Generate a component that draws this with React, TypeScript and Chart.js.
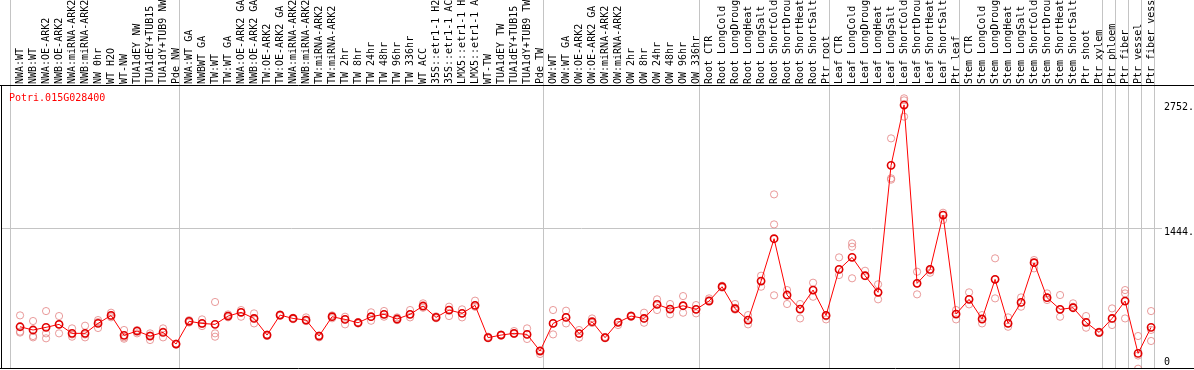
import React, { useEffect, useRef } from 'react';
import { Chart, registerables } from 'chart.js';

Chart.register(...registerables);

const TITLE = 'Potri.015G028400';

const labels = [
  'NWA:WT', 'NWB:WT', 'NWA:OE-ARK2', 'NWB:OE-ARK2', 'NWA:miRNA-ARK2', 'NWB:miRNA-ARK2', 'NW 0hr', 'WT H2O', 'WT-NW',
  'TUA1dEY NW', 'TUA1dEY+TUB15 NW', 'TUA1dY+TUB9 NW', 'Pde NW',
  'NWA:WT GA', 'NWBWT GA', 'TW:WT', 'TW:WT GA', 'NWA:OE-ARK2 GA', 'NWB:OE-ARK2 GA', 'TW:OE-ARK2', 'TW:OE-ARK2 GA',
  'NWA:miRNA-ARK2 GA', 'NWB:miRNA-ARK2 GA', 'TW:miRNA-ARK2', 'TW:miRNA-ARK2 GA', 'TW 2hr', 'TW 8hr', 'TW 24hr',
  'TW 48hr', 'TW 96hr', 'TW 336hr', 'WT ACC', '35S::etr1-1 H2O', '35S::etr1-1 ACC', 'LMX5::etr1-1 H2O',
  'LMX5::etr1-1 ACC', 'WT-TW', 'TUA1dEY TW', 'TUA1dEY+TUB15 TW', 'TUA1dY+TUB9 TW', 'Pde TW',
  'OW:WT', 'OW:WT GA', 'OW:OE-ARK2', 'OW:OE-ARK2 GA', 'OW:miRNA-ARK2', 'OW:miRNA-ARK2 GA', 'OW 2hr', 'OW 8hr',
  'OW 24hr', 'OW 48hr', 'OW 96hr', 'OW 336hr',
  'Root CTR', 'Root LongCold', 'Root LongDrought', 'Root LongHeat', 'Root LongSalt', 'Root ShortCold',
  'Root ShortDrought', 'Root ShortHeat', 'Root ShortSalt', 'Ptr root',
  'Leaf CTR', 'Leaf LongCold', 'Leaf LongDrought', 'Leaf LongHeat', 'Leaf LongSalt', 'Leaf ShortCold',
  'Leaf ShortDrought', 'Leaf ShortHeat', 'Leaf ShortSalt', 'Ptr leaf',
  'Stem CTR', 'Stem LongCold', 'Stem LongDrought', 'Stem LongHeat', 'Stem LongSalt', 'Stem ShortCold',
  'Stem ShortDrought', 'Stem ShortHeat', 'Stem ShortSalt', 'Ptr shoot', 'Ptr xylem', 'Ptr phloem', 'Ptr fiber',
  'Ptr vessel', 'Ptr fiber vessel',
];

const means = [
  411, 377, 405, 436, 342, 342, 446, 530, 321, 366, 314, 352, 230,
  468, 446, 436, 523, 562, 498, 324, 533, 498, 481, 314, 516, 488, 453, 516, 541, 492, 541, 628, 509, 586, 551, 635, 297, 324, 342, 331, 157,
  446, 509, 340, 464, 297, 457, 523, 498, 645, 596, 631, 593,
  680, 830, 600, 481, 889, 1332, 743, 596, 795, 530,
  1011, 1137, 945, 771, 2100, 2731, 865, 1011, 1580, 544,
  698, 492, 907, 446, 666, 1081, 715, 593, 610, 457, 352, 498, 680, 132, 405,
];

const rep1 = [
  530, 471, 575, 523, 394, 422, 481, 558, 377, 377, 342, 394, 230,
  480, 488, 670, 540, 586, 551, 314, 540, 505, 509, 300, 530, 516, 460, 562, 576, 509, 586, 656, 520, 621, 593, 684, 307, 330, 366, 394, 126,
  586, 579, 377, 498, 297, 429, 523, 558, 698, 649, 732, 638,
  708, 830, 649, 533, 945, 1796, 795, 649, 872, 488,
  1137, 1284, 997, 855, 2382, 2801, 987, 976, 1604, 586,
  771, 533, 1127, 509, 718, 1109, 760, 743, 656, 523, 352, 603, 795, 314, 575,
];

const rep2 = [
  360, 314, 342, 342, 307, 300, 398, 523, 286, 342, 272, 300, 225,
  455, 418, 342, 510, 516, 446, 330, 525, 490, 470, 320, 500, 436, 445, 474, 516, 480, 509, 610, 500, 523, 509, 620, 290, 318, 335, 283, 160,
  331, 446, 297, 460, 290, 465, 515, 453, 586, 541, 558, 551,
  690, 840, 610, 436, 830, 1482, 649, 498, 725, 530,
  952, 1248, 945, 698, 1964, 2609, 750, 1011, 1528, 488,
  645, 446, 708, 411, 621, 1022, 691, 516, 610, 401, 345, 429, 760, -28, 262,
];

const rep3 = [
  350, 300, 290, 436, 330, 330, 460, 510, 300, 370, 320, 360, 235,
  470, 440, 307, 523, 562, 498, 324, 533, 498, 481, 314, 516, 488, 453, 516, 541, 492, 541, 628, 509, 586, 551, 635, 297, 324, 342, 331, 165,
  446, 509, 340, 450, 305, 457, 530, 498, 645, 596, 631, 593,
  680, 820, 590, 481, 889, 740, 743, 596, 795, 520,
  1011, 918, 940, 771, 1950, 2780, 865, 1000, 1580, 544,
  698, 492, 907, 446, 666, 1081, 715, 593, 620, 457, 360, 498, 498, 110, 378,
];

// column boundaries where grey separators are drawn
const groupBounds = [0, 13, 41, 53, 63, 73, 84, 85, 86, 87, 88];

const yTickValues = [0, 1444, 2752];
const yTickLabels = ['0', '1444.', '2752.'];

const X_POS = 0.72; // point position within a column
const X_MIN = -0.746;
const X_MAX = 88.56;
const Y_MIN = -31;
const Y_MAX = 2930;

const FONT = '"DejaVu Sans Mono", monospace';

export default function App() {
  const ref = useRef<HTMLCanvasElement>(null);

  useEffect(() => {
    document.body.style.margin = '0';
    const canvas = ref.current;
    if (!canvas) return;

    const tickDefs = [
      ...groupBounds.map((b) => ({ value: b, label: '', bound: true })),
      ...labels.map((l, i) => ({ value: i + X_POS, label: l, bound: false })),
    ].sort((a, b) => a.value - b.value);

    const meanPts = means.map((v, i) => ({ x: i + X_POS, y: v }));
    const repPts = [rep1, rep2, rep3].flatMap((arr) => arr.map((v, i) => ({ x: i + X_POS, y: v })));

    const framePlugin = {
      id: 'frame',
      afterDraw(chart: any) {
        const { ctx, chartArea, width } = chart;
        ctx.save();
        ctx.strokeStyle = '#000';
        ctx.lineWidth = 1;
        ctx.beginPath();
        ctx.moveTo(0, chartArea.top - 0.5);
        ctx.lineTo(width, chartArea.top - 0.5);
        ctx.moveTo(0, chartArea.bottom - 0.5);
        ctx.lineTo(width, chartArea.bottom - 0.5);
        ctx.moveTo(chartArea.left + 0.5, chartArea.top);
        ctx.lineTo(chartArea.left + 0.5, chartArea.bottom);
        ctx.stroke();
        ctx.fillStyle = '#ff0000';
        ctx.font = '10px ' + FONT;
        ctx.textBaseline = 'alphabetic';
        ctx.textAlign = 'left';
        ctx.fillText(TITLE, chartArea.left + 8, chartArea.top + 15);
        ctx.restore();
      },
    };

    const chart = new Chart(canvas, {
      type: 'line',
      data: {
        datasets: [
          {
            type: 'line',
            data: meanPts,
            borderColor: '#ff0000',
            borderWidth: 1,
            pointRadius: 3.6,
            pointHoverRadius: 3.6,
            pointBorderWidth: 1.6,
            pointBorderColor: '#e00000',
            pointBackgroundColor: 'rgba(0,0,0,0)',
            order: 0,
          },
          {
            type: 'scatter',
            data: repPts,
            showLine: false,
            pointRadius: 3.6,
            pointHoverRadius: 3.6,
            pointBorderWidth: 1,
            pointBorderColor: 'rgba(225,120,120,0.75)',
            pointBackgroundColor: 'rgba(0,0,0,0)',
            order: 1,
          },
        ],
      },
      options: {
        responsive: false,
        animation: false,
        events: [],
        layout: { autoPadding: false, padding: { left: 1, right: 0, top: 0, bottom: 1 } },
        plugins: { legend: { display: false }, tooltip: { enabled: false }, title: { display: false } },
        scales: {
          x: {
            type: 'linear',
            position: 'top',
            min: X_MIN,
            max: X_MAX,
            afterBuildTicks: (axis: any) => {
              axis.ticks = tickDefs.map((t) => ({ value: t.value }));
            },
            afterFit: (axis: any) => {
              axis.height = 86;
              axis.paddingLeft = 0;
              axis.paddingRight = 0;
              axis.paddingTop = 0;
              axis.paddingBottom = 0;
            },
            ticks: {
              autoSkip: false,
              minRotation: 90,
              maxRotation: 90,
              padding: -84,
              labelOffset: 12,
              color: '#000',
              font: { family: FONT, size: 10 },
              callback: (_v: any, i: number) => tickDefs[i].label,
            },
            grid: {
              display: true,
              drawOnChartArea: true,
              drawTicks: true,
              tickLength: 86,
              lineWidth: 1,
              color: (c: any) => (c.tick && tickDefs[c.index] && tickDefs[c.index].bound ? '#c4c4c4' : 'rgba(0,0,0,0)'),
            },
            border: { display: false },
          },
          y: {
            type: 'linear',
            position: 'right',
            min: Y_MIN,
            max: Y_MAX,
            afterBuildTicks: (axis: any) => {
              axis.ticks = yTickValues.map((v) => ({ value: v }));
            },
            afterFit: (axis: any) => {
              axis.width = 32;
              axis.paddingLeft = 0;
              axis.paddingRight = 0;
              axis.paddingTop = 0;
              axis.paddingBottom = 0;
            },
            ticks: {
              padding: 2,
              color: '#000',
              font: { family: FONT, size: 10, lineHeight: '8px' },
              callback: (_v: any, i: number) => (i === 0 ? [yTickLabels[i], ''] : ['', yTickLabels[i]]),
            },
            grid: {
              drawTicks: false,
              lineWidth: 1,
              color: (c: any) => (c.tick && c.tick.value === 1444 ? '#c4c4c4' : 'rgba(0,0,0,0)'),
            },
            border: { display: false },
          },
        },
      },
      plugins: [framePlugin],
    } as any);

    return () => chart.destroy();
  }, []);

  return (
    <div style={{ width: 1194, height: 370, position: 'relative', background: '#fff' }}>
      <canvas ref={ref} width={1194} height={370} style={{ display: 'block' }} />
    </div>
  );
}
